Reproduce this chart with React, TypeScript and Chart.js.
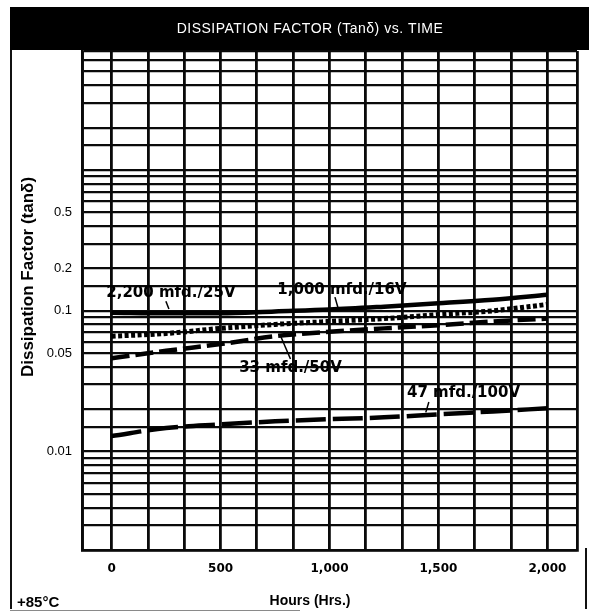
import React, { useEffect, useRef } from 'react';
import { Chart, registerables } from 'chart.js';

Chart.register(...registerables);

// ---- data ----
const hours = [0, 250, 500, 750, 1000, 1250, 1500, 1750, 2000];
const df2200mfd25V = [0.097, 0.096, 0.096, 0.099, 0.102, 0.107, 0.113, 0.12, 0.13];
const df1000mfd16V = [0.066, 0.069, 0.075, 0.08, 0.084, 0.088, 0.094, 0.1, 0.111];
const df33mfd50V = [0.046, 0.052, 0.058, 0.066, 0.071, 0.075, 0.079, 0.084, 0.088];
const df47mfd100V = [0.0129, 0.0147, 0.0156, 0.0164, 0.017, 0.0175, 0.0184, 0.0193, 0.0203];

const seriesNames = ['2,200 mfd./25V', '1,000 mfd./16V', '33 mfd./50V', '47 mfd./100V'];

const xTickHours = [0, 500, 1000, 1500, 2000];
const xTickLabels = ['0', '500', '1,000', '1,500', '2,000'];
const yTickValues = [0.5, 0.2, 0.1, 0.05, 0.01];
const yTickLabels = ['0.5', '0.2', '0.1', '0.05', '0.01'];
const yGridValues = [
  0.002, 0.003, 0.004, 0.005, 0.006, 0.007, 0.008, 0.009,
  0.01, 0.015, 0.02, 0.03, 0.04, 0.05, 0.06, 0.07, 0.08, 0.09,
  0.1, 0.15, 0.2, 0.3, 0.4, 0.5, 0.6, 0.7, 0.8, 0.9,
  1, 1.5, 2, 3, 4, 5, 6, 7,
];
const xGridDivisions = 12; // 0..2000 h in 12 steps

const X_MIN = -136;
const X_MAX = 2136;
const Y_MIN = 0.002;
const Y_MAX = 7;

// callout labels, in data units (hours, tan δ)
const calloutHours = [272, 1057, 821, 1615];
const calloutValues = [0.134, 0.14, 0.039, 0.026];
const leaderStart = [[249, 0.117], [1025, 0.125], [821, 0.0455], [1456, 0.0225]];
const leaderEnd = [[263, 0.103], [1039, 0.105], [776, 0.066], [1442, 0.019]];

const TITLE = 'DISSIPATION FACTOR (Tanδ) vs. TIME';
const Y_TITLE = 'Dissipation Factor (tanδ)';
const X_TITLE = 'Hours (Hrs.)';
const TEMP_NOTE = '+85°C';

const decorPlugin = {
  id: 'decor',
  beforeDraw(chart: any) {
    const ctx = chart.ctx as CanvasRenderingContext2D;
    ctx.save();
    ctx.fillStyle = '#ffffff';
    ctx.fillRect(0, 0, chart.width, chart.height);
    ctx.fillStyle = '#000000';
    ctx.fillRect(10, 7, chart.width - 10, 43);
    ctx.strokeStyle = '#111111';
    ctx.lineWidth = 2;
    ctx.beginPath();
    ctx.moveTo(11, 50);
    ctx.lineTo(11, 609);
    ctx.stroke();
    ctx.beginPath();
    ctx.moveTo(586, 548);
    ctx.lineTo(586, 609);
    ctx.stroke();
    ctx.strokeStyle = '#8a8a8a';
    ctx.lineWidth = 1;
    ctx.beginPath();
    ctx.moveTo(10, 610.5);
    ctx.lineTo(300, 610.5);
    ctx.stroke();

    ctx.fillStyle = '#ffffff';
    ctx.font = '14px "Liberation Sans", Arial, sans-serif';
    ctx.textAlign = 'center';
    ctx.textBaseline = 'middle';
    (ctx as any).letterSpacing = '0.5px';
    ctx.fillText(TITLE, 310, 29);
    (ctx as any).letterSpacing = '0px';
    ctx.restore();
  },
  afterDatasetsDraw(chart: any) {
    const ctx = chart.ctx as CanvasRenderingContext2D;
    const xs = chart.scales.x;
    const ys = chart.scales.y;
    ctx.save();
    ctx.strokeStyle = '#000';
    ctx.lineWidth = 1.5;
    for (let i = 0; i < leaderStart.length; i++) {
      ctx.beginPath();
      ctx.moveTo(xs.getPixelForValue(leaderStart[i][0]), ys.getPixelForValue(leaderStart[i][1]));
      ctx.lineTo(xs.getPixelForValue(leaderEnd[i][0]), ys.getPixelForValue(leaderEnd[i][1]));
      ctx.stroke();
    }
    ctx.fillStyle = '#000';
    ctx.font = 'bold 15px "DejaVu Sans", sans-serif';
    ctx.textAlign = 'center';
    ctx.textBaseline = 'middle';
    for (let i = 0; i < seriesNames.length; i++) {
      ctx.fillText(
        seriesNames[i],
        xs.getPixelForValue(calloutHours[i]),
        ys.getPixelForValue(calloutValues[i])
      );
    }
    ctx.restore();
  },
  afterDraw(chart: any) {
    const ctx = chart.ctx as CanvasRenderingContext2D;
    ctx.save();
    ctx.fillStyle = '#000';
    ctx.textBaseline = 'middle';
    ctx.textAlign = 'center';
    ctx.font = 'bold 14px "Liberation Sans", Arial, sans-serif';
    ctx.fillText(X_TITLE, 310, 601);
    ctx.textAlign = 'left';
    ctx.font = 'bold 15px "Liberation Sans", Arial, sans-serif';
    ctx.fillText(TEMP_NOTE, 17, 603);
    ctx.translate(28.5, 277);
    ctx.rotate(-Math.PI / 2);
    ctx.textAlign = 'center';
    ctx.font = 'bold 17px "Liberation Sans", Arial, sans-serif';
    ctx.fillText(Y_TITLE, 0, 0);
    ctx.restore();
  },
};

export default function App() {
  const canvasRef = useRef<HTMLCanvasElement | null>(null);

  useEffect(() => {
    document.body.style.margin = '0';
    const canvas = canvasRef.current;
    if (!canvas) return;

    const toPoints = (vals: number[]) => hours.map((h, i) => ({ x: h, y: vals[i] }));
    const common = {
      borderColor: '#000000',
      backgroundColor: '#000000',
      borderWidth: 4.5,
      pointRadius: 0,
      fill: false,
      cubicInterpolationMode: 'monotone' as const,
      borderCapStyle: 'butt' as const,
    };

    const chart = new Chart(canvas, {
      type: 'line',
      data: {
        datasets: [
          { ...common, label: seriesNames[0], data: toPoints(df2200mfd25V) },
          { ...common, label: seriesNames[1], data: toPoints(df1000mfd16V), borderWidth: 5, borderDash: [4, 2.5] },
          { ...common, label: seriesNames[2], data: toPoints(df33mfd50V), borderDash: [18, 6] },
          { ...common, label: seriesNames[3], data: toPoints(df47mfd100V), borderDash: [30, 7] },
        ],
      },
      options: {
        animation: false,
        responsive: false,
        maintainAspectRatio: false,
        events: [],
        layout: { padding: { left: 10, right: 6, top: 51, bottom: 0 } },
        plugins: {
          legend: { display: false },
          tooltip: { enabled: false },
          title: { display: false },
        },
        scales: {
          x: {
            type: 'linear',
            min: X_MIN,
            max: X_MAX,
            afterBuildTicks: (scale: any) => {
              const t = [{ value: X_MIN }];
              for (let k = 0; k <= xGridDivisions; k++) t.push({ value: (k * 2000) / xGridDivisions });
              t.push({ value: X_MAX });
              scale.ticks = t;
            },
            afterFit: (scale: any) => {
              scale.height = 64;
            },
            grid: { color: '#0a0a0a', lineWidth: 2.8, drawTicks: false },
            border: { display: true, color: '#0a0a0a', width: 2.8 },
            ticks: {
              autoSkip: false,
              maxRotation: 0,
              padding: 12,
              color: '#000',
              font: { family: '"DejaVu Sans", sans-serif', size: 12, weight: 'bold' },
              callback: (value: any) => {
                const idx = xTickHours.indexOf(Number(value));
                return idx >= 0 ? xTickLabels[idx] : '';
              },
            },
          },
          y: {
            type: 'logarithmic',
            min: Y_MIN,
            max: Y_MAX,
            afterBuildTicks: (scale: any) => {
              scale.ticks = yGridValues.map((v) => ({ value: v }));
            },
            afterFit: (scale: any) => {
              scale.width = 72;
            },
            grid: { color: '#0a0a0a', lineWidth: 2.2, drawTicks: false },
            border: { display: true, color: '#0a0a0a', width: 2.8 },
            ticks: {
              autoSkip: false,
              padding: 10,
              color: '#000',
              font: { family: '"Liberation Sans", Arial, sans-serif', size: 13 },
              callback: (value: any) => {
                const idx = yTickValues.indexOf(Number(value));
                return idx >= 0 ? yTickLabels[idx] : '';
              },
            },
          },
        },
      } as any,
      plugins: [decorPlugin],
    });

    return () => {
      chart.destroy();
    };
  }, []);

  return (
    <div style={{ width: 589, height: 614 }}>
      <canvas ref={canvasRef} width={589} height={614} style={{ display: 'block' }} />
    </div>
  );
}
